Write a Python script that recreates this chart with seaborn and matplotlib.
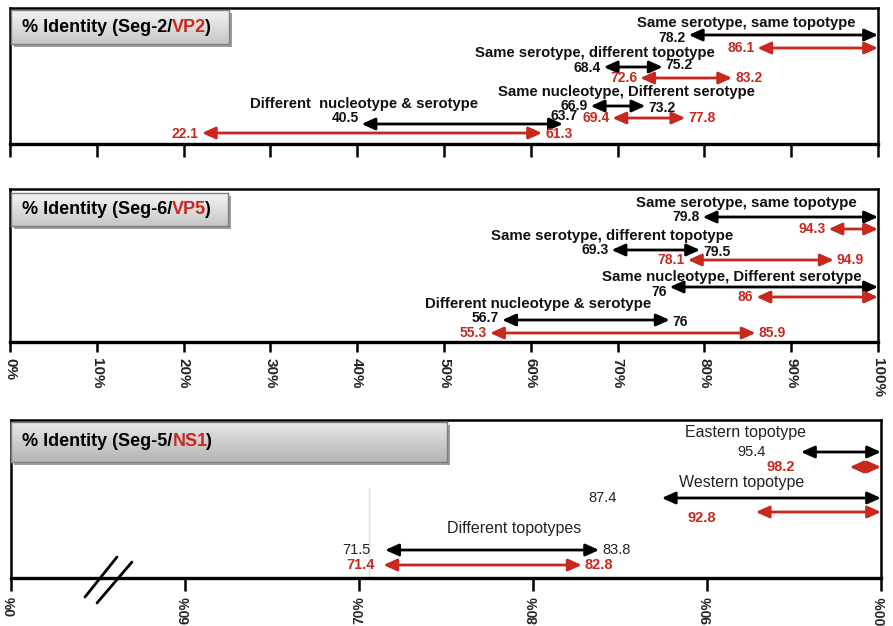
import numpy as np
import matplotlib.pyplot as plt
import seaborn as sns
from matplotlib.colors import LinearSegmentedColormap
from matplotlib.lines import Line2D
from matplotlib.patches import Rectangle

# Seg-2 / VP2 (black = nucleotide, red = amino acid)
vp2_groups = ["Same serotype, same topotype", "Same serotype, different topotype",
              "Same nucleotype, Different serotype", "Different  nucleotype & serotype"]
vp2_black_lo = [78.2, 68.4, 66.9, 40.5]
vp2_black_hi = [100, 75.2, 73.2, 63.7]
vp2_red_lo = [86.1, 72.6, 69.4, 22.1]
vp2_red_hi = [100, 83.2, 77.8, 61.3]

# Seg-6 / VP5
vp5_groups = ["Same serotype, same topotype", "Same serotype, different topotype",
              "Same nucleotype, Different serotype", "Different nucleotype & serotype"]
vp5_black_lo = [79.8, 69.3, 76, 56.7]
vp5_black_hi = [100, 79.5, 100, 76]
vp5_red_lo = [94.3, 78.1, 86, 55.3]
vp5_red_hi = [100, 94.9, 100, 85.9]

# Seg-5 / NS1
ns1_groups = ["Eastern topotype", "Western topotype", "Different topotypes"]
ns1_black_lo = [95.4, 87.4, 71.5]
ns1_black_hi = [100, 100, 83.8]
ns1_red_lo = [98.2, 92.8, 71.4]
ns1_red_hi = [100, 100, 82.8]

ticks_full = [0, 10, 20, 30, 40, 50, 60, 70, 80, 90, 100]
tick_labels_full = ["0%", "10%", "20%", "30%", "40%", "50%", "60%", "70%", "80%", "90%", "100%"]
ticks_ns1 = [0, 60, 70, 80, 90, 100]
tick_labels_ns1 = ["0%", "60%", "70%", "80%", "90%", "100%"]

W, H = 893, 626
RED = "#c8281e"

sns.set_style("white")
plt.rcParams["font.family"] = ["Liberation Sans", "DejaVu Sans"]

fig = plt.figure(figsize=(W / 100, H / 100), dpi=100)


def fig_rect(x0, y0, x1, y1):
    # pixel box (top-left origin) -> figure fraction rect
    return [x0 / W, 1 - y1 / H, (x1 - x0) / W, (y1 - y0) / H]


def make_panel(box, ticks, labels, rotation, tick_len, label_size=10, scale=None):
    x0, y0, x1, y1 = box
    ax = fig.add_axes(fig_rect(x0, y0, x1, y1))
    ax.set_facecolor("none")
    if scale is not None:
        ax.set_xscale("function", functions=scale)
    ax.set_xlim(0, 100)
    ax.set_ylim(y1, y0)  # y in pixel rows, downwards
    for side, sp in ax.spines.items():
        sp.set_color("black")
        sp.set_linewidth(2.4 if side == "bottom" else 1.8)
    ax.set_xticks(ticks)
    if labels:
        ax.set_xticklabels(labels, rotation=rotation, fontweight="bold", fontsize=label_size)
    ax.tick_params(axis="x", bottom=True, labelbottom=bool(labels), direction="out",
                   length=tick_len, width=1.8, color="black", pad=4)
    ax.tick_params(axis="y", left=False, labelleft=False)
    return ax


def title_box(box, parts, top_col, bottom_col):
    x0, y0, x1, y1 = box
    shadow = Rectangle(((x0 + 3) / W, 1 - (y1 + 3) / H), (x1 - x0) / W, (y1 - y0) / H,
                       transform=fig.transFigure, facecolor="#9c9c9c", edgecolor="none", zorder=1)
    fig.add_artist(shadow)
    tax = fig.add_axes(fig_rect(x0, y0, x1, y1))
    tax.set_zorder(3)
    cmap = LinearSegmentedColormap.from_list("g", [top_col, bottom_col])
    tax.imshow(np.linspace(0, 1, 64).reshape(-1, 1), cmap=cmap, aspect="auto",
               extent=[0, 1, 1, 0])
    tax.set_xlim(0, 1)
    tax.set_ylim(1, 0)
    tax.set_xticks([])
    tax.set_yticks([])
    for sp in tax.spines.values():
        sp.set_color("#7f7f7f")
        sp.set_linewidth(1)
    prev = tax.text(11 / (x1 - x0), 0.5, parts[0][0], color=parts[0][1], fontsize=13,
                    fontweight="bold", va="center", ha="left", transform=tax.transAxes)
    for k, (txt, col) in enumerate(parts[1:]):
        prev = tax.annotate(txt, xy=(1, 0), xycoords=prev, xytext=(-1.5 if k else 0, 0),
                            textcoords="offset points", color=col, fontsize=13,
                            fontweight="bold", va="bottom", ha="left")


def draw_groups(ax, groups, blo, bhi, rlo, rhi, lay):
    for i, g in enumerate(groups):
        ax.text(lay["title_x"][i], lay["title_y"][i], g, ha="center", va="center",
                fontsize=lay["gsize"], fontweight=lay["gweight"], color=lay["gcolor"])
        rows = [(blo[i], bhi[i], lay["black_y"][i], lay["black_dy"][i], lay["rdy"][i], "black",
                 lay["black_gap"][i], lay["black_rgap"][i], lay["nweight"], lay["gcolor"]),
                (rlo[i], rhi[i], lay["red_y"][i], lay["red_dy"][i], lay["red_dy"][i], RED,
                 lay["red_gap"][i], 3, "bold", RED)]
        for lo, hi, y, dy, rdy, col, gap, rgap, wt, tcol in rows:
            ax.annotate("", xy=(hi, y), xytext=(lo, y), annotation_clip=False,
                        arrowprops=dict(arrowstyle="<|-|>,head_length=0.8,head_width=0.36",
                                        color=col, lw=2, shrinkA=0, shrinkB=0))
            ax.annotate(f"{lo:g}", xy=(lo, y + dy), xytext=(-gap * 0.72, 0),
                        textcoords="offset points", ha="right", va="center",
                        fontsize=lay["nsize"], fontweight=wt, color=tcol)
            if hi < 100:
                ax.annotate(f"{hi:g}", xy=(hi, y + rdy), xytext=(rgap * 0.72, 0),
                            textcoords="offset points", ha="left", va="center",
                            fontsize=lay["nsize"], fontweight=wt, color=tcol)


# panel 1
ax1 = make_panel((10, 8, 878, 144), ticks_full, None, 0, 9)
draw_groups(ax1, vp2_groups, vp2_black_lo, vp2_black_hi, vp2_red_lo, vp2_red_hi,
            dict(title_x=[84.8, 67.4, 71.0, 40.8], title_y=[23, 53, 92, 104],
                 black_y=[35, 67, 106, 124], red_y=[48, 78, 118, 133],
                 black_dy=[3, 1, 0, -6], rdy=[0, -2, 2, -8], red_dy=[0, 0, 0, 1],
                 black_gap=[3, 3, 3, 3], black_rgap=[3, 3, 3, -12], red_gap=[3, 3, 3, 3],
                 gsize=10.7, gweight="bold", gcolor="#111111", nsize=10, nweight="bold"))
title_box((11, 10, 229, 44), [("% Identity (Seg-2/", "black"), ("VP2", RED), (")", "black")],
          "#f4f4f4", "#c6c6c6")

# panel 2
ax2 = make_panel((10, 189, 878, 342), ticks_full, tick_labels_full, -90, 7.5, label_size=11)
draw_groups(ax2, vp5_groups, vp5_black_lo, vp5_black_hi, vp5_red_lo, vp5_red_hi,
            dict(title_x=[84.8, 69.4, 83.2, 60.8], title_y=[203, 236, 277, 304],
                 black_y=[217, 250, 287, 320], red_y=[229, 260, 297, 333],
                 black_dy=[0, 0, 5, -2], rdy=[0, 2, 0, 2], red_dy=[0, 0, 0, 0],
                 black_gap=[3, 3, 3, 3], black_rgap=[3, 3, 3, 3], red_gap=[3, 3, 3, 3],
                 gsize=10.8, gweight="bold", gcolor="#111111", nsize=10, nweight="bold"))
title_box((11, 193, 228, 226), [("% Identity (Seg-6/", "black"), ("VP5", RED), (")", "black")],
          "#f4f4f4", "#c6c6c6")


# panel 3: broken axis, 0-60% squeezed into one interval
def fwd(x):
    x = np.asarray(x, dtype=float)
    return np.where(x < 60, x / 60, 1 + (x - 60) / 10)


def inv(u):
    u = np.asarray(u, dtype=float)
    return np.where(u < 1, u * 60, 60 + (u - 1) * 10)


ax3 = make_panel((11, 420, 881, 578), ticks_ns1, tick_labels_ns1, 90, 9, scale=(fwd, inv))
draw_groups(ax3, ns1_groups, ns1_black_lo, ns1_black_hi, ns1_red_lo, ns1_red_hi,
            dict(title_x=[92.2, 92.0, 78.9], title_y=[432, 482, 528],
                 black_y=[452, 498, 550], red_y=[467, 512, 565],
                 black_dy=[0, 0, 0], rdy=[0, 0, 0], red_dy=[0, 6, 0],
                 black_gap=[35, 45, 14], black_rgap=[3, 3, 3], red_gap=[55, 40, 8],
                 gsize=11.5, gweight="normal", gcolor="#222222", nsize=10.5, nweight="normal"))
ax3.axvline(70.6, ymin=0, ymax=0.57, color="#e2e2e2", lw=1)
title_box((11, 422, 447, 462), [("% Identity (Seg-5/", "black"), ("NS1", RED), (")", "black")],
          "#e8e8e8", "#b4b4b4")

# axis break marks
for (xa, ya), (xb, yb) in [((85, 597), (117, 557)), ((97, 603), (132, 562))]:
    fig.add_artist(Line2D([xa / W, xb / W], [1 - ya / H, 1 - yb / H],
                          transform=fig.transFigure, color="black", lw=2))

fig.savefig("out.png", dpi=100, facecolor="white")
